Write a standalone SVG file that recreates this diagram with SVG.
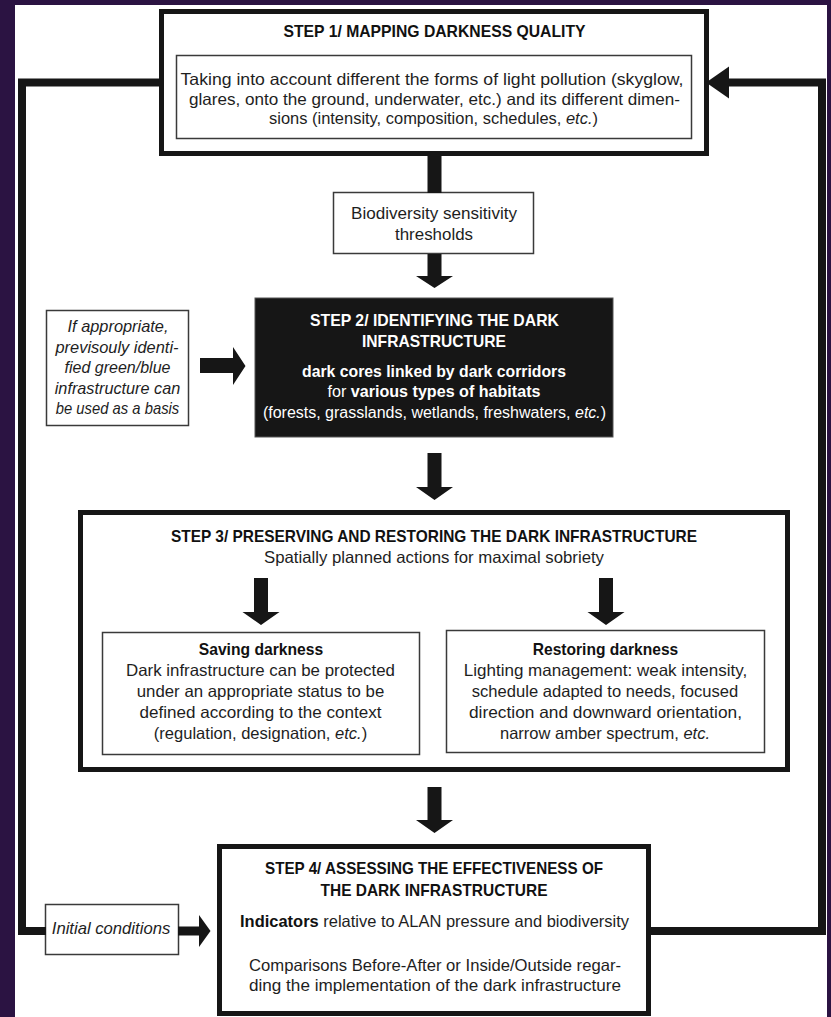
<svg xmlns="http://www.w3.org/2000/svg" width="831" height="1017" viewBox="0 0 831 1017">
<style>
.t{font-family:"Liberation Sans Narrow","Liberation Sans",Arial,sans-serif;text-anchor:middle;fill:#1e1e1e;font-size:16.5px}
.r{font-family:"Liberation Sans",Arial,sans-serif;font-size:16px}
.b{font-weight:bold;fill:#111}
.h{font-family:"Liberation Sans Narrow","Liberation Sans",Arial,sans-serif;text-anchor:middle;font-weight:bold;fill:#111;font-size:16.5px}
.i{font-style:italic}
.w{fill:#fff}
.thick{fill:#fff;stroke:#161616;stroke-width:5}
.thin{fill:#fff;stroke:#3a3a3a;stroke-width:1.5}
.ar{fill:#161616}
.ln{fill:none;stroke:#161616;stroke-width:8;stroke-linejoin:miter}
</style>
<rect width="831" height="1017" fill="#2b1342"/>
<rect x="15" y="5" width="812" height="1012" fill="#fff"/>

<g id="step1">
  <rect class="thick" x="161.5" y="11.5" width="545" height="142"/>
  <text class="h" x="434.5" y="37" textLength="302" lengthAdjust="spacingAndGlyphs">STEP 1/ MAPPING DARKNESS QUALITY</text>
  <rect class="thin" x="176.5" y="55.5" width="515" height="83"/>
  <text class="t" x="432" y="85" textLength="503" lengthAdjust="spacingAndGlyphs">Taking into account different the forms of light pollution (skyglow,</text>
  <text class="t" x="434.5" y="104.5" textLength="491" lengthAdjust="spacingAndGlyphs">glares, onto the ground, underwater, etc.) and its different dimen-</text>
  <text class="t" x="433.5" y="124" textLength="329" lengthAdjust="spacingAndGlyphs">sions (intensity, composition, schedules, <tspan class="i">etc.</tspan>)</text>
</g>

<g id="thresholds">
  <rect class="thin" x="333.5" y="192.5" width="200" height="61"/>
  <text class="t" x="434" y="219" textLength="166" lengthAdjust="spacingAndGlyphs">Biodiversity sensitivity</text>
  <text class="t" x="434" y="239.5" textLength="78" lengthAdjust="spacingAndGlyphs">thresholds</text>
</g>

<g id="greenblue">
  <rect class="thin" x="46.5" y="310.5" width="142" height="115"/>
  <text class="t i" x="118" y="332" textLength="101" lengthAdjust="spacingAndGlyphs">If appropriate,</text>
  <text class="t i" x="117" y="352.5" textLength="123" lengthAdjust="spacingAndGlyphs">previsouly identi-</text>
  <text class="t i" x="117.5" y="373" textLength="106" lengthAdjust="spacingAndGlyphs">fied green/blue</text>
  <text class="t i" x="117.5" y="393.5" textLength="125.5" lengthAdjust="spacingAndGlyphs">infrastructure can</text>
  <text class="t i" x="117.5" y="414" textLength="123.5" lengthAdjust="spacingAndGlyphs">be used as a basis</text>
</g>

<g id="step2">
  <rect x="255" y="298" width="358" height="139" fill="#161616" stroke="#555" stroke-width="1"/>
  <text class="h w" x="434.5" y="326" font-size="17" textLength="249" lengthAdjust="spacingAndGlyphs">STEP 2/ IDENTIFYING THE DARK</text>
  <text class="h w" x="434" y="347" font-size="17" textLength="144" lengthAdjust="spacingAndGlyphs">INFRASTRUCTURE</text>
  <text class="t b w" x="434" y="376.5" textLength="264" lengthAdjust="spacingAndGlyphs">dark cores linked by dark corridors</text>
  <text class="t w" x="434" y="397" textLength="213" lengthAdjust="spacingAndGlyphs">for <tspan class="b w">various types of habitats</tspan></text>
  <text class="t r w" x="434.5" y="417.5">(forests, grasslands, wetlands, freshwaters, <tspan class="i">etc.</tspan>)</text>
</g>

<g id="step3">
  <rect class="thick" x="80.5" y="512.5" width="707" height="257"/>
  <text class="h" x="434" y="542" textLength="526" lengthAdjust="spacingAndGlyphs">STEP 3/ PRESERVING AND RESTORING THE DARK INFRASTRUCTURE</text>
  <text class="t" x="434" y="563" textLength="340" lengthAdjust="spacingAndGlyphs">Spatially planned actions for maximal sobriety</text>
</g>

<g id="saving">
  <rect class="thin" x="102.5" y="632.5" width="317" height="122"/>
  <text class="t b" x="261" y="655" textLength="124.5" lengthAdjust="spacingAndGlyphs">Saving darkness</text>
  <text class="t" x="260.5" y="676" textLength="269" lengthAdjust="spacingAndGlyphs">Dark infrastructure can be protected</text>
  <text class="t" x="260.5" y="697" textLength="247.5" lengthAdjust="spacingAndGlyphs">under an appropriate status to be</text>
  <text class="t" x="260.5" y="718" textLength="242" lengthAdjust="spacingAndGlyphs">defined according to the context</text>
  <text class="t" x="260.5" y="739" textLength="213.5" lengthAdjust="spacingAndGlyphs">(regulation, designation, <tspan class="i">etc.</tspan>)</text>
</g>

<g id="restoring">
  <rect class="thin" x="446.5" y="630.5" width="318" height="122"/>
  <text class="t b" x="605.5" y="655" textLength="145.5" lengthAdjust="spacingAndGlyphs">Restoring darkness</text>
  <text class="t" x="605.5" y="676" textLength="283.5" lengthAdjust="spacingAndGlyphs">Lighting management: weak intensity,</text>
  <text class="t" x="605" y="697" textLength="266.5" lengthAdjust="spacingAndGlyphs">schedule adapted to needs, focused</text>
  <text class="t" x="605.5" y="718" textLength="273" lengthAdjust="spacingAndGlyphs">direction and downward orientation,</text>
  <text class="t" x="605" y="739" textLength="210" lengthAdjust="spacingAndGlyphs">narrow amber spectrum, <tspan class="i">etc.</tspan></text>
</g>

<g id="initial">
  <rect class="thin" x="45.5" y="904.5" width="133" height="50"/>
  <text class="t i" x="111" y="934" textLength="118.5" lengthAdjust="spacingAndGlyphs">Initial conditions</text>
</g>

<g id="step4">
  <rect class="thick" x="219.5" y="846.5" width="429" height="167"/>
  <text class="h" x="434" y="874" textLength="338" lengthAdjust="spacingAndGlyphs">STEP 4/ ASSESSING THE EFFECTIVENESS OF</text>
  <text class="h" x="434" y="896" textLength="227" lengthAdjust="spacingAndGlyphs">THE DARK INFRASTRUCTURE</text>
  <text class="t" x="434.5" y="927" textLength="389" lengthAdjust="spacingAndGlyphs"><tspan class="b">Indicators</tspan> relative to ALAN pressure and biodiversity</text>
  <text class="t" x="435" y="971" textLength="372" lengthAdjust="spacingAndGlyphs">Comparisons Before-After or Inside/Outside regar-</text>
  <text class="t" x="435" y="991" textLength="372" lengthAdjust="spacingAndGlyphs">ding the implementation of the dark infrastructure</text>
</g>

<g id="connectors">
  <path class="ln" d="M159 82.5 H22 V931 H46"/>
  <path class="ln" d="M651 931 H822 V82.5 H728"/>
  <polygon class="ar" points="729,66.5 706,82.5 729,98.5"/>
  <rect class="ar" x="427.5" y="156" width="14" height="37"/>
  <polygon class="ar" points="427.5,254 441.5,254 441.5,276 453,276 434.5,288 416,276 427.5,276"/>
  <polygon class="ar" points="427.5,453 441.5,453 441.5,487 453,487 434.5,500 416,487 427.5,487"/>
  <polygon class="ar" points="427.5,787 441.5,787 441.5,820 453,820 434.5,833 416,820 427.5,820"/>
  <polygon class="ar" points="254,578 268,578 268,612 279.5,612 261,625 242.5,612 254,612"/>
  <polygon class="ar" points="599,578 613,578 613,612 624.5,612 606,625 587.5,612 599,612"/>
  <polygon class="ar" points="200,358 233,358 233,347 245.5,366 233,385 233,373 200,373"/>
  <polygon class="ar" points="178,926.5 199,926.5 199,915 210.5,931 199,947 199,935.5 178,935.5"/>
</g>
</svg>
